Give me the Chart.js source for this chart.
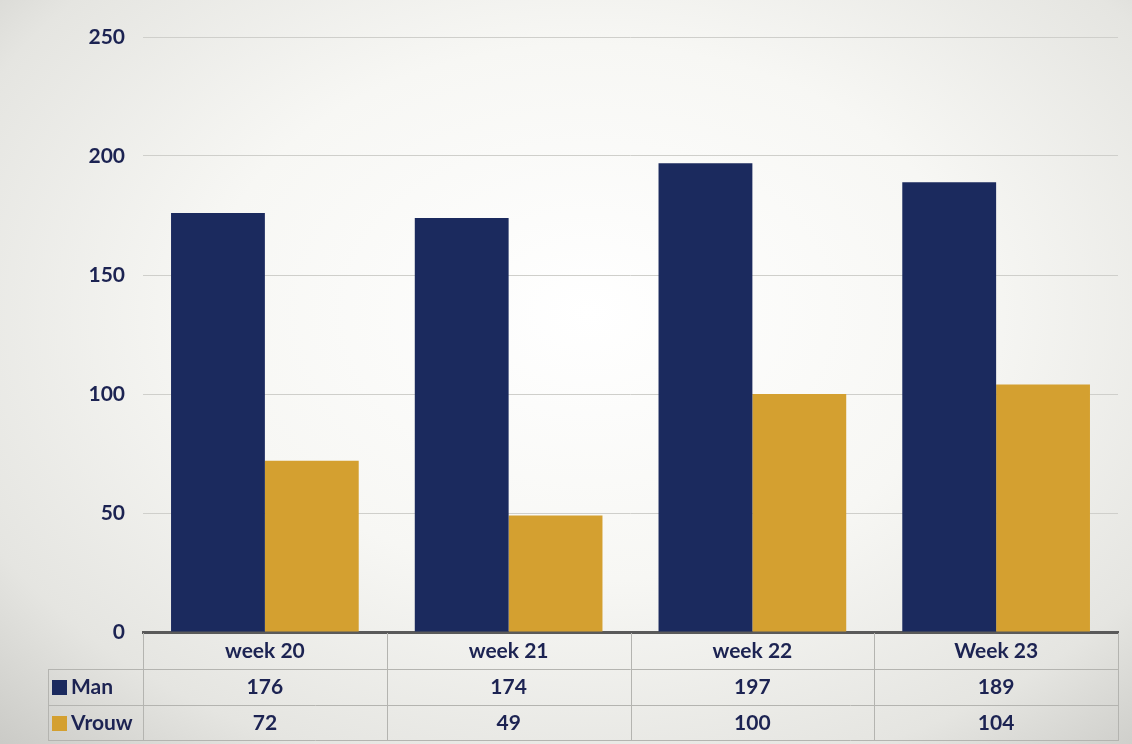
<!DOCTYPE html>
<html>
<head>
<meta charset="utf-8">
<script src="https://cdn.jsdelivr.net/npm/chart.js@4/dist/chart.umd.min.js"></script>
<style>
  html, body { margin: 0; padding: 0; }
  body {
    width: 1132px; height: 744px; overflow: hidden;
    background: radial-gradient(ellipse 75% 80% at 52% 42%, #ffffff 0%, #f7f7f4 45%, #e5e5e1 80%, #cbcbc7 100%);
  }
  #wrap { position: relative; width: 1132px; height: 744px; }
</style>
</head>
<body>
<div id="wrap"><canvas id="myChart" width="1132" height="744"></canvas></div>
<script>
const weeks = ['week 20', 'week 21', 'week 22', 'Week 23']
const man = [176, 174, 197, 189]
const vrouw = [72, 49, 100, 104]
const yTicks = [0, 50, 100, 150, 200, 250]

const navy = '#1b2a5e'
const gold = '#d4a030'
const textColor = '#1c2352'
const font = 'Lato, "Open Sans", sans-serif'

// data table under the bars, columns follow the x scale
const tablePlugin = {
  id: 'dataTable',
  afterDraw(chart) {
    const ctx = chart.ctx
    const xs = chart.scales.x
    const area = chart.chartArea
    const top = area.bottom + 1
    const rowH = 36
    const leftX = 48
    const rows = [
      { name: 'Man', values: man, color: navy },
      { name: 'Vrouw', values: vrouw, color: gold }
    ]
    const step = xs.getPixelForValue(1) - xs.getPixelForValue(0)
    const edges = weeks.map((w, i) => xs.getPixelForValue(i) - step / 2)
    edges.push(xs.getPixelForValue(weeks.length - 1) + step / 2)

    ctx.save()
    ctx.strokeStyle = '#b4b4b0'
    ctx.lineWidth = 1
    ctx.beginPath()
    // horizontal lines
    ctx.moveTo(area.left, top + rowH + 0.5); ctx.lineTo(area.right, top + rowH + 0.5)
    ctx.moveTo(leftX, top + rowH + 0.5); ctx.lineTo(area.left, top + rowH + 0.5)
    ctx.moveTo(leftX, top + rowH * 2 + 0.5); ctx.lineTo(area.right, top + rowH * 2 + 0.5)
    ctx.moveTo(leftX, top + rowH * 3 - 0.5); ctx.lineTo(area.right, top + rowH * 3 - 0.5)
    // vertical lines
    edges.forEach(x => {
      ctx.moveTo(Math.round(x) + 0.5, top); ctx.lineTo(Math.round(x) + 0.5, top + rowH * 3)
    })
    ctx.moveTo(leftX + 0.5, top + rowH); ctx.lineTo(leftX + 0.5, top + rowH * 3)
    ctx.stroke()

    ctx.fillStyle = textColor
    ctx.font = 'bold 21px ' + font
    ctx.textAlign = 'center'
    ctx.textBaseline = 'middle'
    weeks.forEach((w, i) => {
      ctx.fillText(w, xs.getPixelForValue(i), top + rowH / 2)
    })
    rows.forEach((r, ri) => {
      const cy = top + rowH * (ri + 1) + rowH / 2
      r.values.forEach((v, i) => {
        ctx.fillStyle = textColor
        ctx.textAlign = 'center'
        ctx.fillText(String(v), xs.getPixelForValue(i), cy)
      })
      ctx.fillStyle = r.color
      ctx.fillRect(leftX + 4, cy - 7, 15, 15)
      ctx.fillStyle = textColor
      ctx.textAlign = 'left'
      ctx.fillText(r.name, leftX + 23, cy)
    })
    ctx.restore()
  }
}

const ctx = document.getElementById('myChart').getContext('2d')
const chart = new Chart(ctx, {
  type: 'bar',
  data: {
    labels: weeks,
    datasets: [
      { label: 'Man', data: man, backgroundColor: navy, borderWidth: 0 },
      { label: 'Vrouw', data: vrouw, backgroundColor: gold, borderWidth: 0 }
    ]
  },
  options: {
    responsive: false,
    animation: false,
    layout: { padding: { top: 37, right: 14, left: 0, bottom: 0 } },
    datasets: { bar: { categoryPercentage: 0.77, barPercentage: 1.0 } },
    plugins: { legend: { display: false }, tooltip: { enabled: false } },
    scales: {
      x: {
        grid: { display: false },
        border: { display: true, color: '#5a5a5a', width: 3 },
        ticks: { display: false },
        afterFit(scale) { scale.height = 112 }
      },
      y: {
        min: 0, max: 250,
        afterBuildTicks(scale) { scale.ticks = yTicks.map(v => ({ value: v })) },
        grid: { color: '#cfcfcb', lineWidth: 1, drawTicks: false },
        border: { display: false },
        ticks: {
          padding: 18,
          color: textColor,
          font: { family: font, size: 21, weight: 'bold' }
        },
        afterFit(scale) { scale.width = 143 }
      }
    }
  },
  plugins: [tablePlugin]
})
</script>
</body>
</html>
